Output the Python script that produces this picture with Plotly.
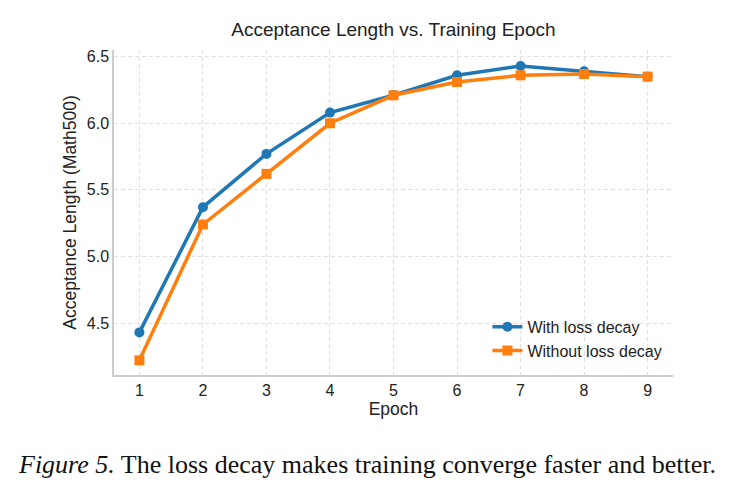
import plotly.graph_objects as go

epochs = [1, 2, 3, 4, 5, 6, 7, 8, 9]
with_decay = [4.43, 5.37, 5.77, 6.08, 6.21, 6.36, 6.43, 6.39, 6.35]
without_decay = [4.22, 5.24, 5.62, 6.00, 6.21, 6.31, 6.36, 6.37, 6.35]
y_ticks = [4.5, 5.0, 5.5, 6.0, 6.5]

fig = go.Figure()
fig.add_trace(go.Scatter(x=epochs, y=with_decay, mode="lines+markers", name="With loss decay",
                         line=dict(color="#1f77b4", width=3.5),
                         marker=dict(symbol="circle", size=10, color="#1f77b4")))
fig.add_trace(go.Scatter(x=epochs, y=without_decay, mode="lines+markers", name="Without loss decay",
                         line=dict(color="#ff7f0e", width=3.5),
                         marker=dict(symbol="square", size=10, color="#ff7f0e")))

font_sans = "Liberation Sans, Arial, sans-serif"
fig.update_layout(
    width=735, height=493,
    margin=dict(l=114, r=62, t=50, b=118),
    paper_bgcolor="white", plot_bgcolor="white",
    font=dict(family=font_sans, color="#222222", size=15),
    title=dict(text="Acceptance Length vs. Training Epoch", x=0.5353, xanchor="center",
               y=0.94, yanchor="middle", font=dict(size=19, color="#222222")),
    legend=dict(x=0.99, y=0.022, xanchor="right", yanchor="bottom",
                bgcolor="rgba(255,255,255,0)", font=dict(size=16, color="#222222"),
                itemwidth=30, tracegroupgap=2),
    showlegend=True,
)
fig.update_xaxes(range=[0.6, 9.4], tickvals=epochs, showgrid=True, gridcolor="#e0e0e0",
                 griddash="4px,3px", gridwidth=1, showline=True, linecolor="#cccccc", linewidth=1.5,
                 zeroline=False, ticks="", title=dict(text="Epoch", font=dict(size=17.5), standoff=4),
                 tickfont=dict(size=16))
fig.update_yaxes(range=[4.11, 6.55], tickvals=y_ticks, ticktext=[f"{v:.1f}" for v in y_ticks],
                 showgrid=True, gridcolor="#e0e0e0", griddash="4px,3px", gridwidth=1,
                 showline=True, linecolor="#cccccc", linewidth=1.5, zeroline=False, ticks="",
                 title=dict(text="Acceptance Length (Math500)", font=dict(size=17.5), standoff=6),
                 tickfont=dict(size=16))

fig.add_annotation(text="<i>Figure 5.</i> The loss decay makes training converge faster and better.",
                   xref="paper", yref="paper", x=0.5, y=-0.3, xanchor="center", yanchor="middle",
                   xshift=-27, yshift=8,
                   showarrow=False, font=dict(family="Liberation Serif, Times New Roman, serif", size=26, color="#111111"))

fig.write_html("out.html")
